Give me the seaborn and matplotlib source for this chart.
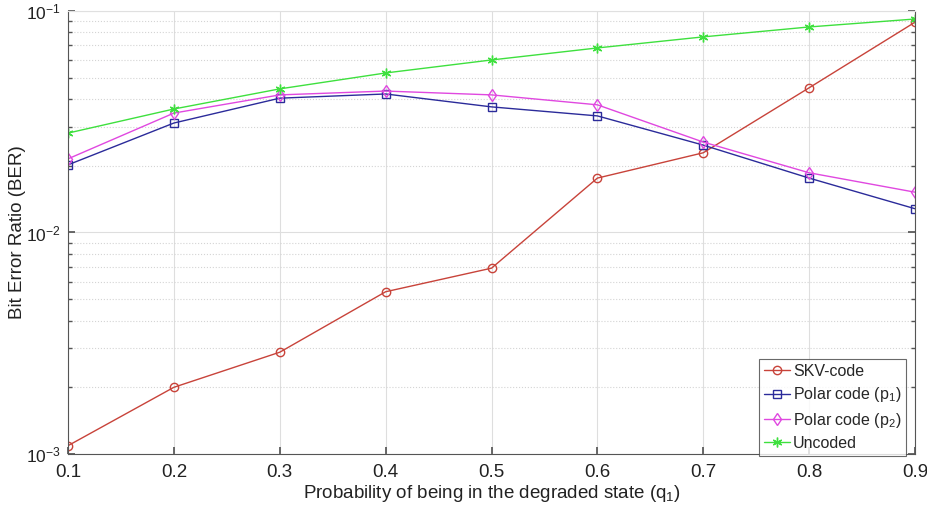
import numpy as np
import pandas as pd
import matplotlib
matplotlib.use("Agg")
import matplotlib.pyplot as plt
import seaborn as sns
from matplotlib.ticker import LogLocator, NullFormatter, FixedLocator

q1 = [0.1, 0.2, 0.3, 0.4, 0.5, 0.6, 0.7, 0.8, 0.9]
skv_code = [1.09e-3, 2.0e-3, 2.88e-3, 5.4e-3, 6.9e-3, 1.76e-2, 2.29e-2, 4.5e-2, 0.089]
polar_p1 = [0.0202, 0.0312, 0.0404, 0.0422, 0.0369, 0.0336, 0.0248, 0.0176, 0.0128]
polar_p2 = [0.0215, 0.0346, 0.0418, 0.0435, 0.0418, 0.0377, 0.0256, 0.0186, 0.0152]
uncoded = [0.0281, 0.0361, 0.0445, 0.0525, 0.0601, 0.0681, 0.0764, 0.0847, 0.092]

series_names = ["SKV-code", "Polar code (p$_1$)", "Polar code (p$_2$)", "Uncoded"]
series_values = [skv_code, polar_p1, polar_p2, uncoded]
colors = ["#c8433a", "#2b2b9a", "#e048e0", "#3ee03e"]
markers = ["o", "s", "d", (6, 2, 0)]
msizes = [6, 5.5, 6.5, 7]

df = pd.concat(
    [pd.DataFrame({"q1": q1, "BER": v, "series": n}) for n, v in zip(series_names, series_values)],
    ignore_index=True,
)

sns.set_theme(style="white")
plt.rcParams["font.family"] = ["Liberation Sans", "DejaVu Sans"]
plt.rcParams["mathtext.fontset"] = "custom"
plt.rcParams["mathtext.rm"] = "Liberation Sans"
plt.rcParams["mathtext.it"] = "Liberation Sans"

fig = plt.figure(figsize=(9.28, 5.23), dpi=100)
ax = fig.add_axes([0.0733, 0.132, 0.9127, 0.847])

for name, c, m, ms in zip(series_names, colors, markers, msizes):
    sub = df[df["series"] == name]
    sns.lineplot(data=sub, x="q1", y="BER", ax=ax, color=c, marker=m,
                 markersize=ms, markerfacecolor="none", markeredgecolor=c,
                 markeredgewidth=1.0, linewidth=1.0, label=name)

ax.set_yscale("log")
ax.set_xlim(0.1, 0.9)
ax.set_ylim(1e-3, 1e-1)
ax.xaxis.set_major_locator(FixedLocator(q1))
ax.set_xticklabels([f"{v:.1f}" for v in q1])
ax.yaxis.set_major_locator(LogLocator(base=10, numticks=10))
ax.yaxis.set_minor_locator(LogLocator(base=10, subs=np.arange(2, 10), numticks=20))
ax.yaxis.set_minor_formatter(NullFormatter())

ax.grid(which="major", color="#dedede", linewidth=0.8, linestyle="-")
ax.grid(which="minor", axis="y", color="#d4d4d4", linewidth=0.8, linestyle=":")
ax.set_axisbelow(True)

for side in ["left", "bottom", "right"]:
    ax.spines[side].set_color("#555555")
    ax.spines[side].set_linewidth(0.8)
ax.spines["top"].set_color("#e0e0e0")
ax.spines["top"].set_linewidth(0.8)

ax.tick_params(axis="both", which="both", direction="in", colors="#555555",
               labelcolor="#222222", right=True, left=True, bottom=True)
ax.tick_params(axis="x", labelsize=13.5, pad=7)
ax.tick_params(axis="y", labelsize=12.5, pad=5)
ax.tick_params(axis="both", which="major", length=5)
ax.tick_params(axis="y", which="minor", length=3)

ax.set_xlabel("Probability of being in the degraded state (q$_1$)", fontsize=13.5, color="#222222", labelpad=2)
ax.set_ylabel("Bit Error Ratio (BER)", fontsize=13.5, color="#222222")
ax.yaxis.set_label_coords(-0.05, 0.5)

leg = ax.legend(loc="lower right", bbox_to_anchor=(0.9895, -0.004), fontsize=11.5,
                frameon=True, fancybox=False, edgecolor="#444444", handlelength=1.6,
                handletextpad=0.2, borderpad=0.3, labelspacing=0.4, borderaxespad=0.0)
leg.get_frame().set_linewidth(0.8)

fig.savefig("out.png", dpi=100, facecolor="white")
